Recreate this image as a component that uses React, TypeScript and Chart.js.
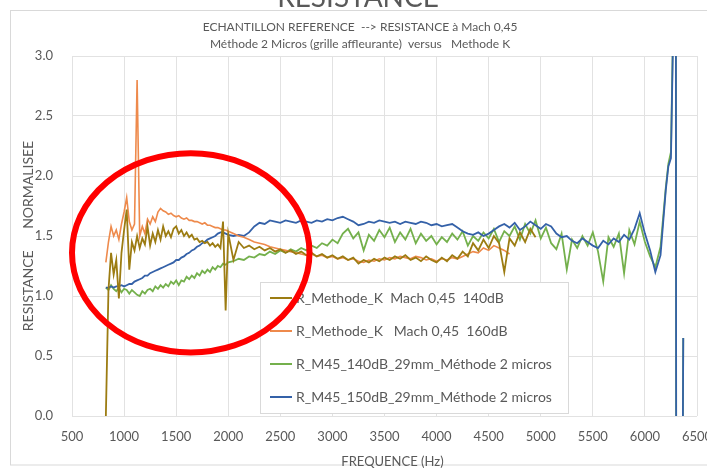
import React, { useEffect, useRef } from "react";
import { Chart, registerables } from "chart.js";

Chart.register(...registerables);

// ---------- DATA ----------
const FREQ = [
  825, 850, 875, 900, 925, 950, 975, 1000,
  1025, 1050, 1075, 1100, 1125, 1150, 1175, 1200,
  1225, 1250, 1275, 1300, 1325, 1350, 1375, 1400,
  1425, 1450, 1475, 1500, 1525, 1550, 1575, 1600,
  1625, 1650, 1675, 1700, 1725, 1750, 1775, 1800,
  1825, 1850, 1875, 1900, 1925, 1950, 1975, 2000,
  2050, 2100, 2150, 2200, 2250, 2300, 2350, 2400, 2450, 2500,
  2550, 2600, 2650, 2700, 2750, 2800, 2850, 2900, 2950, 3000,
  3050, 3100, 3150, 3200, 3250, 3300, 3350, 3400, 3450, 3500,
  3550, 3600, 3650, 3700, 3750, 3800, 3850, 3900, 3950, 4000,
  4050, 4100, 4150, 4200, 4250, 4300, 4350, 4400, 4450, 4500,
  4550, 4600, 4650, 4700, 4750, 4800, 4850, 4900, 4950, 5000,
  5050, 5100, 5150, 5200, 5250, 5300, 5350, 5400, 5450, 5500,
  5550, 5600, 5650, 5700, 5750, 5800, 5850, 5900, 5950, 6000,
  6050, 6100, 6150, 6200,
  6225, 6250, 6275, 6295, 6305, 6345, 6368,
];

// R_Methode_K  Mach 0,45  140dB
const R_K_140 = [
  0.0, 1.05, 1.36, 1.18, 1.3, 0.98, 1.36, 1.55,
  1.72, 1.22, 1.45, 1.38, 1.5, 1.4, 1.48, 1.43,
  1.58, 1.42, 1.52, 1.45, 1.55, 1.47, 1.58, 1.5,
  1.54, 1.49, 1.56, 1.58, 1.52, 1.55, 1.5, 1.53,
  1.49, 1.51, 1.47, 1.48, 1.45, 1.46, 1.44, 1.45,
  1.42, 1.44, 1.41, 1.43, 1.4, 1.62, 0.88, 1.52,
  1.3, 1.45, 1.4, 1.42, 1.39, 1.41, 1.38, 1.4, 1.37, 1.39,
  1.36, 1.38, 1.35, 1.37, 1.34, 1.36, 1.33, 1.35, 1.32, 1.34,
  1.31, 1.33, 1.3, 1.32, 1.27, 1.3, 1.28, 1.31, 1.29, 1.32,
  1.3, 1.33, 1.31, 1.34, 1.3, 1.32, 1.29, 1.33, 1.3, 1.28,
  1.32, 1.29, 1.34, 1.31, 1.37, 1.33, 1.44, 1.38, 1.47, 1.4,
  1.5, 1.44, 1.2, 1.48, 1.42, 1.53, 1.45, 1.56, 1.49,
];

// R_Methode_K   Mach 0,45  160dB
const R_K_160 = [
  1.28, 1.45, 1.58, 1.5, 1.55, 1.47, 1.6, 1.7,
  1.82, 1.62, 1.55, 1.6, 2.8, 1.5, 1.58, 1.52,
  1.64, 1.6, 1.66, 1.62, 1.7, 1.73, 1.71, 1.7,
  1.68, 1.69, 1.67, 1.66, 1.67, 1.65, 1.64, 1.65,
  1.63, 1.63, 1.62, 1.62, 1.61, 1.6, 1.61, 1.59,
  1.59, 1.58, 1.57, 1.57, 1.56, 1.55, 1.55, 1.54,
  1.52, 1.5, 1.49, 1.47, 1.45, 1.44, 1.43, 1.41, 1.4, 1.39,
  1.38, 1.37, 1.36, 1.35, 1.34, 1.35, 1.33, 1.34, 1.32, 1.33,
  1.31, 1.32, 1.3, 1.31, 1.29, 1.28, 1.3, 1.29, 1.31, 1.3,
  1.32, 1.31, 1.33, 1.32, 1.31, 1.33, 1.32, 1.3, 1.31, 1.29,
  1.31, 1.3, 1.32, 1.31, 1.33, 1.35, 1.37, 1.36, 1.4, 1.38,
  1.42, 1.4, 1.38, 1.35,
];

// R_M45_140dB_29mm_Méthode 2 micros
const R_M45_140 = [
  1.07, 1.05, 1.09, 1.06, 1.04, 1.07, 1.03, 1.06,
  1.05, 1.02, 1.05, 1.03, 1.01, 1.0, 1.04, 1.02,
  1.05, 1.06, 1.04, 1.08, 1.06, 1.09, 1.07, 1.1,
  1.08, 1.12, 1.1, 1.13, 1.09, 1.13, 1.12, 1.16,
  1.14, 1.17, 1.15, 1.19, 1.17, 1.21, 1.19, 1.22,
  1.2, 1.24, 1.22, 1.25, 1.24, 1.27, 1.26, 1.28,
  1.29, 1.31, 1.3, 1.33, 1.32, 1.35, 1.34, 1.37, 1.35, 1.38,
  1.36, 1.39, 1.37, 1.4, 1.38, 1.42, 1.4, 1.44, 1.42, 1.47,
  1.44, 1.52, 1.56, 1.48, 1.53, 1.38, 1.51, 1.46, 1.55, 1.49,
  1.57, 1.45, 1.53, 1.47, 1.56, 1.44, 1.52, 1.46, 1.5, 1.43,
  1.49, 1.45, 1.52, 1.47, 1.54, 1.42, 1.5, 1.46, 1.53, 1.48,
  1.56, 1.45, 1.54, 1.5, 1.58, 1.47, 1.6, 1.52, 1.63, 1.48,
  1.57, 1.44, 1.39, 1.52, 1.22, 1.47, 1.4, 1.5, 1.42, 1.53,
  1.37, 1.12, 1.49, 1.41, 1.52, 1.19, 1.55, 1.43, 1.62, 1.45,
  1.33, 1.24, 1.41, 1.9,
  2.1, 2.2, 3.5, 6.0, -6.0, -4.0, 0.65,
];

// R_M45_150dB_29mm_Méthode 2 micros
const R_M45_150 = [
  1.07, 1.07, 1.08, 1.07, 1.08, 1.08, 1.09, 1.08,
  1.09, 1.1, 1.1, 1.12, 1.13, 1.14, 1.15, 1.17,
  1.17, 1.19, 1.2, 1.21, 1.22, 1.23, 1.24, 1.25,
  1.26, 1.27, 1.28, 1.3, 1.3, 1.32, 1.33, 1.35,
  1.36, 1.38, 1.39, 1.41, 1.42, 1.44, 1.45, 1.47,
  1.48, 1.49, 1.5, 1.52, 1.53, 1.53, 1.52, 1.51,
  1.5, 1.51, 1.5, 1.53, 1.58, 1.61, 1.6, 1.63, 1.62, 1.61,
  1.63, 1.62, 1.61, 1.63, 1.62, 1.61, 1.63, 1.62, 1.64, 1.63,
  1.65, 1.66, 1.64, 1.62, 1.59, 1.6, 1.62, 1.61, 1.63, 1.62,
  1.61, 1.62, 1.6, 1.62, 1.61, 1.6, 1.62, 1.61, 1.59, 1.6,
  1.58, 1.59, 1.6, 1.57, 1.54, 1.52, 1.51, 1.53, 1.5, 1.52,
  1.55, 1.58, 1.6, 1.57, 1.61, 1.55, 1.58, 1.62, 1.59, 1.56,
  1.6, 1.58, 1.52, 1.49, 1.5, 1.46, 1.44, 1.48, 1.45, 1.42,
  1.4, 1.46, 1.43, 1.48, 1.45, 1.51, 1.47, 1.56, 1.69, 1.52,
  1.38, 1.2, 1.34, 1.88,
  2.08, 2.15, 3.4, 6.0, -6.0, -4.0, 0.65,
];

const SERIES_LABELS = [
  "R_Methode_K  Mach 0,45  140dB",
  "R_Methode_K   Mach 0,45  160dB",
  "R_M45_140dB_29mm_Méthode 2 micros",
  "R_M45_150dB_29mm_Méthode 2 micros",
];
const SERIES_VALUES = [R_K_140, R_K_160, R_M45_140, R_M45_150];
const SERIES_COLORS = ["#9c7c12", "#ee8a4c", "#74b04c", "#3461a8"];

const X_MIN = 500;
const X_MAX = 6500;
const X_STEP = 500;
const Y_MIN = 0;
const Y_MAX = 3;
const Y_STEP = 0.5;

const SUPER_TITLE = "RESISTANCE";
const TITLE_LINES = [
  "ECHANTILLON REFERENCE  --> RESISTANCE à Mach 0,45",
  "Méthode 2 Micros (grille affleurante)  versus   Methode K",
];
const X_TITLE = "FREQUENCE (Hz)";
const Y_TITLE = "RESISTANCE      NORMALISEE";

// red hand-drawn highlight ellipse (in data units)
const HIGHLIGHT = { cx: 1640, cy: 1.36, rx: 1140, ry: 0.83 };

const TEXT = "#595959";
const GRID = "#e2e2e2";
const FONT = "Lato, 'Liberation Sans', sans-serif";

const decorPlugin = {
  id: "decor",
  beforeDraw(chart: any) {
    const ctx = chart.ctx;
    const { left, right, top, bottom } = chart.chartArea;
    ctx.save();
    ctx.fillStyle = "#ffffff";
    ctx.fillRect(0, 0, chart.width, chart.height);
    ctx.strokeStyle = "#d9d9d9";
    ctx.lineWidth = 1;
    ctx.strokeRect(10.5, 10.5, chart.width + 20, 454.5);

    ctx.fillStyle = TEXT;
    ctx.textAlign = "center";
    ctx.textBaseline = "alphabetic";
    ctx.font = `28px ${FONT}`;
    ctx.fillText(SUPER_TITLE, 358, 7);

    ctx.font = `12px ${FONT}`;
    ctx.textBaseline = "middle";
    TITLE_LINES.forEach((t, i) => ctx.fillText(t, 360, 27 + i * 17));

    ctx.font = `13px ${FONT}`;
    ctx.fillText(X_TITLE, (left + right) / 2 + 8, 462);

    ctx.save();
    ctx.translate(28, (top + bottom) / 2);
    ctx.rotate(-Math.PI / 2);
    ctx.font = `14px ${FONT}`;
    ctx.fillText(Y_TITLE, 0, 0);
    ctx.restore();
    ctx.restore();
  },
  afterDatasetsDraw(chart: any) {
    const ctx = chart.ctx;
    ctx.save();
    const x0 = 260.5, y0 = 282.5, w = 308, h = 131;
    ctx.fillStyle = "#ffffff";
    ctx.fillRect(x0, y0, w, h);
    ctx.strokeStyle = "#d9d9d9";
    ctx.lineWidth = 1;
    ctx.strokeRect(x0, y0, w, h);
    chart.data.datasets.forEach((ds: any, i: number) => {
      const y = 298 + i * 33;
      ctx.strokeStyle = ds.borderColor;
      ctx.lineWidth = 2;
      ctx.beginPath();
      ctx.moveTo(270, y);
      ctx.lineTo(292, y);
      ctx.stroke();
      ctx.fillStyle = TEXT;
      ctx.font = `14px ${FONT}`;
      ctx.textAlign = "left";
      ctx.textBaseline = "middle";
      ctx.fillText(ds.label, 296, y);
    });
    ctx.restore();
  },
  afterDraw(chart: any) {
    const ctx = chart.ctx;
    const xs = chart.scales.x;
    const ys = chart.scales.y;
    const cx = xs.getPixelForValue(HIGHLIGHT.cx);
    const cy = ys.getPixelForValue(HIGHLIGHT.cy);
    const rx = Math.abs(xs.getPixelForValue(HIGHLIGHT.cx + HIGHLIGHT.rx) - cx);
    const ry = Math.abs(ys.getPixelForValue(HIGHLIGHT.cy + HIGHLIGHT.ry) - cy);
    ctx.save();
    ctx.strokeStyle = "#ff0000";
    ctx.lineWidth = 6;
    ctx.beginPath();
    ctx.ellipse(cx, cy, rx, ry, 0, 0, Math.PI * 2);
    ctx.stroke();
    ctx.restore();
  },
};

export default function App() {
  const ref = useRef<HTMLCanvasElement | null>(null);

  useEffect(() => {
    if (!ref.current) return;
    const drawOrder = [0, 1, 3, 2];
    const chart = new Chart(ref.current, {
      type: "line",
      data: {
        datasets: SERIES_VALUES.map((vals, s) => ({
          label: SERIES_LABELS[s],
          data: vals.map((v, i) => ({ x: FREQ[i], y: v })),
          borderColor: SERIES_COLORS[s],
          backgroundColor: SERIES_COLORS[s],
          borderWidth: s === 1 ? 1.6 : 1.8,
          pointRadius: 0,
          tension: 0,
          fill: false,
          order: drawOrder[s],
        })),
      },
      options: {
        animation: false,
        responsive: false,
        devicePixelRatio: 1,
        layout: { padding: { top: 56, left: 10, right: 10, bottom: 0 } },
        plugins: {
          legend: { display: false },
          title: { display: false },
          tooltip: { enabled: false },
        },
        scales: {
          x: {
            type: "linear",
            min: X_MIN,
            max: X_MAX,
            ticks: {
              stepSize: X_STEP,
              color: TEXT,
              font: { family: FONT, size: 13 },
              padding: 13,
              maxRotation: 0,
              autoSkip: false,
              callback: (v: any) => String(Math.round(Number(v))),
            },
            grid: { color: GRID, drawTicks: false },
            border: { display: false },
            afterFit: (s: any) => {
              s.height = 53;
              s.paddingLeft = 0;
              s.paddingRight = 0;
            },
          },
          y: {
            type: "linear",
            min: Y_MIN,
            max: Y_MAX,
            ticks: {
              stepSize: Y_STEP,
              color: TEXT,
              font: { family: FONT, size: 13 },
              padding: 19,
              callback: (v: any) => Number(v).toFixed(1),
            },
            grid: { color: GRID, drawTicks: false },
            border: { display: false },
            afterFit: (s: any) => {
              s.width = 62;
              s.paddingTop = 0;
              s.paddingBottom = 0;
            },
          },
        },
      },
      plugins: [decorPlugin],
    } as any);
    return () => chart.destroy();
  }, []);

  return (
    <div style={{ position: "fixed", left: 0, top: 0, width: 707, height: 469, background: "#fff" }}>
      <canvas ref={ref} width={707} height={469} style={{ display: "block" }} />
    </div>
  );
}
